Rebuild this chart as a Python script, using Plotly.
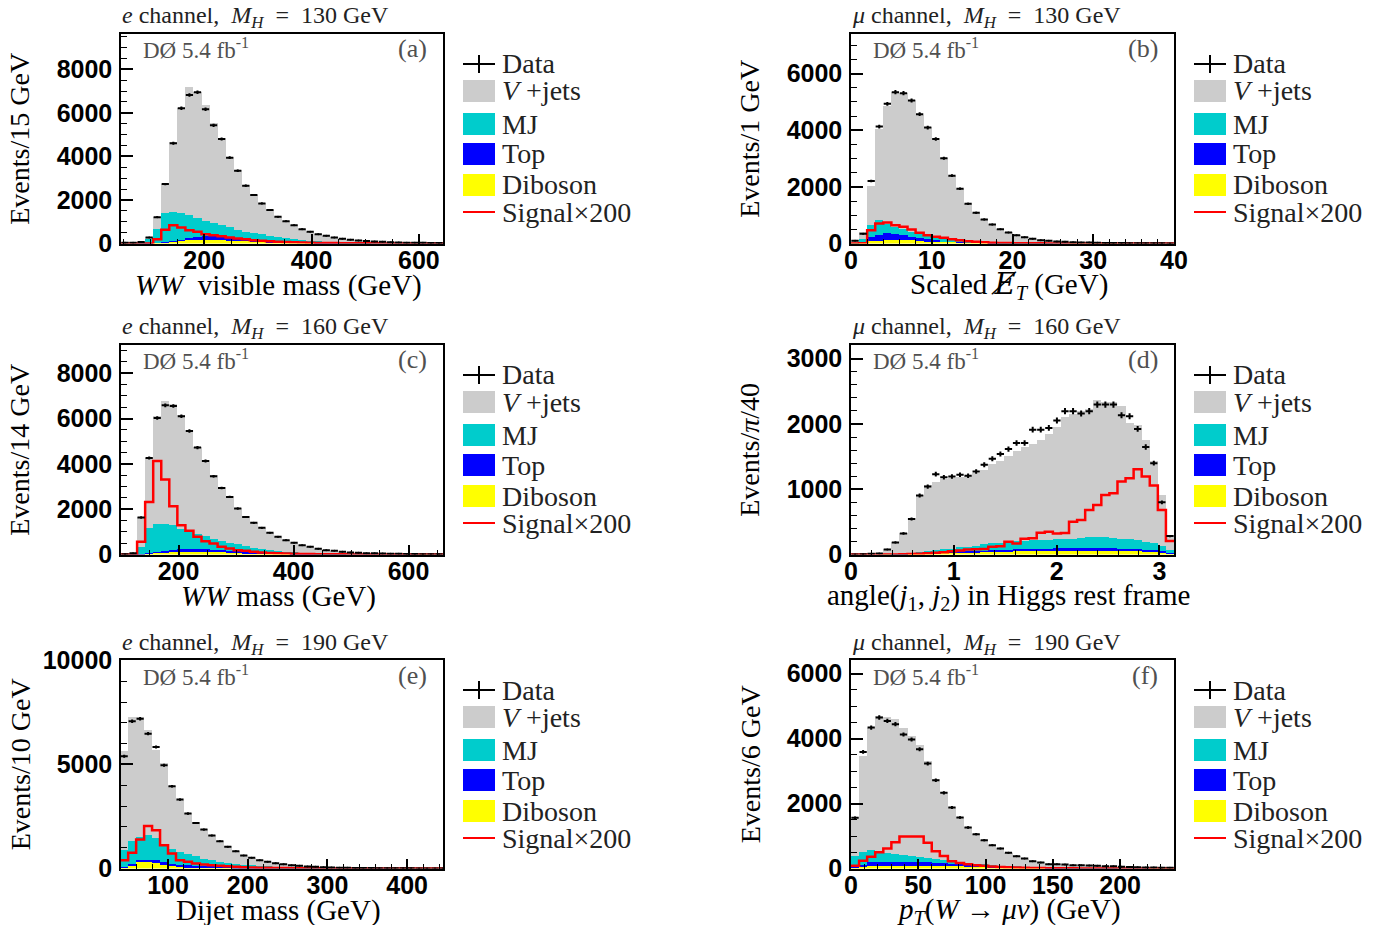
import numpy as np
import plotly.graph_objects as go

W, H = 1392, 933
PAD = 8  # default page margin of the browser around the figure
FW, FH = W - 2 * PAD, H - 2 * PAD
SERIF = "Liberation Serif"
SANS = "Liberation Sans"

C_VJ, C_MJ, C_TOP, C_DIB, C_SIG = "#cccccc", "#00cccc", "#0000ff", "#ffff00", "#ff0000"

# ---------------- data (events per bin) ----------------
# (a) e channel, MH=130, WW visible mass, 15 GeV bins from 45
a_data = [30, 40, 70, 276, 1211, 2729, 4600, 6209, 6822, 6944, 6163, 5427, 4798, 3940, 3342, 2652, 2223, 1840, 1533, 1226,
          1027, 843, 659, 537, 429, 353, 276, 215, 169, 138, 110, 90, 75, 60, 50, 40, 35, 30, 25, 20]
a_vjets = [10, 10, 30, 30, 571, 1370, 3194, 4790, 5897, 5825, 5318, 4600, 4017, 3254, 2777, 2143, 1780, 1446, 1213, 933,
           780, 650, 517, 417, 330, 275, 215, 165, 130, 108, 84, 70, 59, 47, 40, 32, 29, 25, 21, 17]
a_mj = [10, 15, 27, 217, 619, 1300, 1326, 1230, 1063, 850, 712, 590, 533, 456, 378, 337, 285, 269, 217, 207,
        177, 132, 98, 78, 64, 51, 42, 32, 25, 20, 16, 12, 10, 7, 6, 4, 3, 3, 2, 1]
a_top = [0, 0, 1, 3, 10, 20, 40, 60, 100, 150, 180, 180, 170, 150, 120, 100, 85, 70, 55, 45,
         38, 30, 25, 20, 16, 13, 10, 8, 7, 6, 5, 4, 3, 3, 2, 2, 2, 1, 1, 1]
a_diboson = [0, 0, 2, 10, 30, 60, 90, 120, 140, 150, 150, 150, 140, 130, 115, 100, 90, 75, 65, 55,
             45, 38, 30, 25, 20, 16, 13, 10, 8, 6, 5, 4, 3, 3, 2, 2, 1, 1, 1, 1]
a_signal = [0, 0, 0, 5, 190, 630, 843, 730, 613, 537, 430, 383, 337, 276, 230, 200, 153, 123, 107, 80,
            65, 52, 42, 34, 27, 22, 18, 14, 11, 9, 7, 6, 5, 4, 3, 3, 2, 2, 1, 1]

# (b) mu channel, MH=130, scaled missing ET, 1 GeV bins from 0
b_data = [100, 340, 2207, 4130, 4932, 5345, 5310, 5050, 4567, 4095, 3693, 3009, 2395, 1935, 1404, 1086, 850, 673, 507, 389,
          295, 224, 165, 118, 94, 71, 59, 47, 35, 35, 24, 20, 17, 14, 11, 9, 8, 6, 5, 4]
b_vjets = [90, 271, 1381, 3210, 4189, 4779, 4814, 4661, 4189, 3870, 3446, 2867, 2277, 1841, 1334, 1031, 806, 638, 480, 368,
           278, 211, 155, 110, 87, 65, 54, 43, 35, 29, 25, 20, 16, 14, 11, 9, 7, 6, 5, 4]
b_mj = [25, 92, 416, 531, 318, 260, 201, 177, 177, 118, 94, 57, 48, 37, 25, 19, 16, 13, 10, 8,
        7, 5, 4, 3, 3, 2, 2, 2, 2, 2, 1, 1, 1, 1, 1, 1, 1, 1, 1, 1]
b_top = [0, 20, 150, 195, 240, 212, 177, 126, 77, 57, 43, 20, 15, 12, 10, 8, 6, 5, 4, 3,
         2, 2, 1, 1, 1, 1, 1, 0, 0, 0, 0, 0, 0, 0, 0, 0, 0, 0, 0, 0]
b_diboson = [5, 30, 83, 100, 115, 118, 118, 110, 100, 85, 75, 65, 55, 45, 35, 28, 22, 17, 13, 10,
             8, 6, 5, 4, 3, 3, 2, 2, 1, 1, 1, 1, 1, 0, 0, 0, 0, 0, 0, 0]
b_signal = [0, 10, 472, 708, 743, 649, 590, 496, 378, 295, 236, 200, 153, 118, 80, 59, 40, 30, 22, 15,
            10, 8, 6, 5, 4, 3, 2, 2, 1, 1, 1, 1, 0, 0, 0, 0, 0, 0, 0, 0]

# (c) e channel, MH=160, WW mass, 14 GeV bins from 100
c_data = [10, 50, 1632, 4263, 6027, 6586, 6556, 6100, 5454, 4719, 4131, 3455, 2940, 2543, 2029, 1661, 1397, 1176, 956, 779,
          632, 515, 412, 338, 250, 191, 162, 118, 90, 75, 60, 50, 40, 35, 30, 25, 20, 15, 12, 10]
c_vjets = [5, 20, 1323, 3088, 4762, 5395, 5365, 4998, 4513, 3822, 3351, 2794, 2381, 2057, 1594, 1298, 1101, 925, 745, 628,
           522, 425, 343, 282, 207, 157, 135, 96, 73, 61, 49, 41, 33, 29, 25, 21, 17, 12, 10, 8]
c_mj = [5, 27, 313, 1115, 1218, 1197, 1074, 892, 735, 666, 569, 486, 408, 345, 311, 262, 209, 183, 153, 109,
        76, 61, 47, 38, 30, 24, 19, 15, 12, 9, 7, 6, 5, 4, 3, 2, 1, 2, 2, 2]
c_top = [0, 1, 5, 15, 30, 60, 100, 130, 140, 140, 130, 120, 105, 90, 75, 60, 50, 40, 32, 25,
         20, 16, 13, 10, 8, 6, 5, 4, 3, 3, 2, 2, 1, 1, 1, 1, 1, 0, 0, 0]
c_diboson = [0, 2, 20, 60, 90, 110, 120, 125, 125, 120, 110, 100, 90, 80, 70, 60, 50, 42, 35, 28,
             22, 18, 15, 12, 10, 8, 6, 5, 4, 3, 3, 2, 2, 1, 1, 1, 1, 1, 0, 0]
c_signal = [0, 0, 559, 2323, 4131, 3308, 2132, 1294, 1044, 779, 588, 485, 338, 265, 191, 162, 118, 90, 70, 55,
            42, 33, 26, 20, 15, 12, 9, 7, 5, 4, 3, 2, 2, 1, 1, 1, 0, 0, 0, 0]

# (d) mu channel, MH=160, angle(j1,j2) in Higgs rest frame, pi/40 bins from 0
d_data = [0, 5, 10, 15, 77, 185, 323, 544, 903, 1041, 1231, 1185, 1195, 1221, 1206, 1272, 1375, 1467, 1539, 1616,
          1708, 1708, 1913, 1913, 1939, 2052, 2196, 2196, 2160, 2196, 2298, 2298, 2298, 2134, 2119, 1924, 1647, 1400, 800, 282]
d_vjets = [0, 3, 8, 15, 78, 190, 323, 528, 872, 1011, 1051, 1077, 1078, 1072, 1082, 1109, 1146, 1211, 1260, 1320,
           1375, 1430, 1485, 1539, 1629, 1729, 1864, 1909, 1945, 1969, 2093, 2078, 2079, 2032, 1785, 1769, 1565, 1246, 780, 231]
d_mj = [0, 0, 0, 0, 1, 2, 4, 15, 24, 33, 38, 42, 51, 61, 66, 76, 93, 102, 108, 114,
        125, 127, 128, 131, 129, 137, 140, 145, 154, 165, 170, 166, 157, 149, 143, 138, 120, 115, 85, 47]
d_top = [0, 0, 0, 0, 0, 1, 2, 3, 5, 7, 9, 11, 13, 15, 17, 19, 21, 24, 27, 29,
         31, 33, 35, 37, 38, 39, 40, 40, 40, 40, 40, 40, 39, 38, 36, 33, 30, 25, 18, 8]
d_diboson = [0, 0, 0, 0, 1, 2, 4, 8, 12, 16, 20, 24, 28, 32, 35, 38, 40, 43, 45, 47,
             49, 50, 52, 53, 54, 55, 56, 56, 57, 57, 57, 56, 55, 54, 52, 50, 45, 40, 30, 12]
d_signal = [0, 0, 0, 0, 0, 0, 3, 8, 12, 18, 25, 35, 50, 60, 77, 80, 85, 118, 125, 195,
            169, 240, 250, 333, 349, 323, 330, 503, 528, 682, 759, 913, 939, 1118, 1170, 1308, 1195, 1057, 682, 205]

# (e) e channel, MH=190, dijet mass, 10 GeV bins from 40
e_data = [5392, 7072, 7200, 6480, 5840, 4960, 3952, 3312, 2640, 2192, 1872, 1584, 1312, 1040, 832, 624, 512, 400, 320, 256,
          208, 160, 128, 100, 80, 65, 50, 40, 35, 30, 25, 20, 16, 13, 10, 8, 7, 6, 5, 4, 3]
e_vjets = [4732, 5944, 5796, 5072, 4232, 3892, 3012, 2532, 1972, 1644, 1424, 1242, 1010, 810, 630, 460, 370, 290, 230, 182,
           147, 113, 88, 68, 55, 44, 34, 28, 25, 21, 18, 14, 11, 9, 7, 5, 5, 4, 4, 3, 2]
e_mj = [820, 1112, 1100, 1168, 1048, 860, 700, 588, 540, 440, 352, 278, 225, 172, 158, 130, 110, 89, 75, 60,
        49, 39, 32, 26, 20, 17, 13, 11, 8, 7, 5, 4, 4, 3, 3, 3, 2, 2, 1, 1, 1]
e_top = [32, 48, 80, 112, 160, 160, 128, 112, 90, 80, 78, 70, 60, 50, 40, 32, 26, 20, 16, 13,
         10, 8, 6, 5, 4, 3, 3, 2, 2, 1, 1, 1, 1, 1, 0, 0, 0, 0, 0, 0, 0]
e_diboson = [48, 160, 320, 320, 272, 160, 112, 80, 70, 60, 50, 42, 35, 28, 22, 18, 14, 11, 9, 7,
             6, 5, 4, 3, 3, 2, 2, 1, 1, 1, 1, 1, 0, 0, 0, 0, 0, 0, 0, 0, 0]
e_signal = [400, 752, 1392, 2048, 1840, 1120, 720, 400, 320, 240, 192, 160, 128, 112, 80, 64, 50, 40, 32, 25,
            20, 16, 12, 10, 8, 6, 5, 4, 3, 2, 2, 1, 1, 1, 1, 0, 0, 0, 0, 0, 0]

# (f) mu channel, MH=190, pT(W->mu nu), 6 GeV bins from 0
f_data = [1560, 3591, 4340, 4648, 4545, 4443, 4125, 3971, 3673, 3232, 2719, 2329, 1878, 1570, 1262, 1057, 872, 718, 616, 482,
          380, 308, 226, 185, 133, 133, 123, 103, 100, 92, 82, 72, 72, 51, 45, 38, 32, 27, 23, 20]
f_vjets = [1210, 2945, 3765, 4170, 4200, 4160, 3920, 3700, 3460, 2990, 2490, 2100, 1675, 1380, 1095, 910, 745, 610, 524, 405,
           316, 255, 182, 149, 110, 108, 103, 88, 86, 81, 73, 64, 62, 46, 41, 34, 29, 24, 21, 18]
f_mj = [318, 390, 390, 325, 265, 235, 205, 180, 150, 125, 105, 90, 75, 60, 50, 40, 35, 28, 22, 19,
        16, 13, 11, 9, 8, 7, 5, 5, 4, 3, 3, 3, 2, 2, 1, 2, 1, 2, 1, 1]
f_top = [37, 68, 105, 120, 117, 117, 118, 115, 108, 105, 99, 88, 82, 77, 67, 58, 48, 40, 33, 26,
         21, 17, 14, 11, 9, 7, 6, 5, 4, 3, 2, 2, 1, 1, 1, 1, 1, 0, 0, 0]
f_diboson = [25, 55, 80, 85, 88, 88, 87, 85, 82, 80, 76, 72, 68, 63, 58, 52, 47, 42, 37, 32,
             27, 23, 19, 16, 13, 11, 9, 7, 6, 5, 4, 3, 3, 2, 2, 1, 1, 1, 1, 1]
f_signal = [82, 236, 360, 500, 616, 810, 985, 985, 985, 795, 535, 385, 220, 170, 133, 103, 82, 62, 48, 37,
            28, 21, 16, 12, 9, 7, 5, 4, 3, 3, 2, 2, 1, 1, 1, 1, 0, 0, 0, 0]

# binning (first edge, width)
bins = {"a": (45, 15), "b": (0, 1), "c": (100, 14), "d": (0, np.pi / 40), "e": (40, 10), "f": (0, 6)}

# text
panel_titles = {
    "a": "<i>e</i> channel,  <i>M</i><sub><i>H</i></sub>  =  130 GeV",
    "b": "<i>μ</i> channel,  <i>M</i><sub><i>H</i></sub>  =  130 GeV",
    "c": "<i>e</i> channel,  <i>M</i><sub><i>H</i></sub>  =  160 GeV",
    "d": "<i>μ</i> channel,  <i>M</i><sub><i>H</i></sub>  =  160 GeV",
    "e": "<i>e</i> channel,  <i>M</i><sub><i>H</i></sub>  =  190 GeV",
    "f": "<i>μ</i> channel,  <i>M</i><sub><i>H</i></sub>  =  190 GeV",
}
x_titles = {
    "a": "<i>WW</i>  visible mass (GeV)",
    "b": "Scaled <span style=\"font-family:'DejaVu Serif'\"><i>E̸</i></span><sub><i>T</i></sub> (GeV)",
    "c": "<i>WW</i> mass (GeV)",
    "d": "angle(<i>j</i><sub>1</sub>, <i>j</i><sub>2</sub>) in Higgs rest frame",
    "e": "Dijet mass (GeV)",
    "f": "<i>p</i><sub><i>T</i></sub>(<i>W</i> → <i>μν</i>) (GeV)",
}
y_titles = {
    "a": "Events/15 GeV", "b": "Events/1 GeV", "c": "Events/14 GeV",
    "d": "Events/<i>π</i>/40", "e": "Events/10 GeV", "f": "Events/6 GeV",
}
legend_labels = ["Data", "<i>V</i> +jets", "MJ", "Top", "Diboson", "Signal×200"]

series = {
    "a": (a_data, a_vjets, a_mj, a_top, a_diboson, a_signal),
    "b": (b_data, b_vjets, b_mj, b_top, b_diboson, b_signal),
    "c": (c_data, c_vjets, c_mj, c_top, c_diboson, c_signal),
    "d": (d_data, d_vjets, d_mj, d_top, d_diboson, d_signal),
    "e": (e_data, e_vjets, e_mj, e_top, e_diboson, e_signal),
    "f": (f_data, f_vjets, f_mj, f_top, f_diboson, f_signal),
}

# ---------------- layout geometry (page pixels) ----------------
COLX = {"L": (121, 443), "R": (851, 1174)}
ROWY = [(34, 243.5), (345, 554.5), (660, 868.5)]
panel_pos = {"a": ("L", 0), "b": ("R", 0), "c": ("L", 1), "d": ("R", 1), "e": ("L", 2), "f": ("R", 2)}
axis_cfg = {  # x range, x major, x minor, y range, y major, y minor
    "a": ([45, 645], 200, 50, [0, 9620], 2000, 500),
    "b": ([0, 40], 10, 2, [0, 7400], 2000, 500),
    "c": ([100, 660], 200, 50, [0, 9250], 2000, 500),
    "d": ([0, np.pi], 1, 0.2, [0, 3210], 1000, 200),
    "e": ([41, 445], 100, 20, [0, 10020], 5000, 1000),
    "f": ([0, 240], 50, 10, [0, 6420], 2000, 500),
}


def fx(x):
    return (x - PAD) / FW


def fy(y):
    return 1 - (y - PAD) / FH


fig = go.Figure()
annotations = []
shapes = []

for i, key in enumerate("abcdef", start=1):
    col, row = panel_pos[key]
    x0, x1 = COLX[col]
    t0, t1 = ROWY[row]
    xa = "x" if i == 1 else f"x{i}"
    ya = "y" if i == 1 else f"y{i}"
    data, vj, mj, top, dib, sig = series[key]
    lo, bw = bins[key]
    n = len(data)
    centers = lo + bw * (np.arange(n) + 0.5)
    edges = lo + bw * np.arange(n + 1)

    for vals, colr in [(dib, C_DIB), (top, C_TOP), (mj, C_MJ), (vj, C_VJ)]:
        fig.add_trace(go.Bar(x=centers, y=vals, width=bw, marker=dict(color=colr, line=dict(width=0)),
                             xaxis=xa, yaxis=ya, showlegend=False, hoverinfo="skip"))
    fig.add_trace(go.Scatter(x=edges, y=list(sig) + [sig[-1]], mode="lines",
                             line=dict(color=C_SIG, width=2.5, shape="hv"),
                             xaxis=xa, yaxis=ya, showlegend=False, hoverinfo="skip"))
    dat = np.array(data, dtype=float)
    fig.add_trace(go.Scatter(x=centers, y=dat, mode="markers", marker=dict(size=2, color="black"),
                             error_x=dict(type="constant", value=bw * 0.45, thickness=2, width=0, color="black"),
                             error_y=dict(type="data", array=np.sqrt(dat), thickness=2, width=0, color="black"),
                             xaxis=xa, yaxis=ya, showlegend=False, hoverinfo="skip"))

    xr, xmaj, xmin_, yr, ymaj, ymin_ = axis_cfg[key]
    tickfont = dict(family=SANS, size=25, color="black", weight="bold")
    xname = "xaxis" if i == 1 else f"xaxis{i}"
    yname = "yaxis" if i == 1 else f"yaxis{i}"
    fig.update_layout(**{
        xname: dict(domain=[fx(x0), fx(x1)], range=xr, anchor=ya, showline=True, linecolor="black", linewidth=1.5,
                    mirror=True, ticks="inside", ticklen=10, tickwidth=1.5, tickcolor="black", tick0=0, dtick=xmaj,
                    minor=dict(dtick=xmin_, tick0=0, ticks="inside", ticklen=5, tickwidth=1.2, tickcolor="black"),
                    tickfont=tickfont, showgrid=False, zeroline=False, ticklabelstandoff=-6,
                    automargin=False, tickformat="d"),
        yname: dict(domain=[fy(t1), fy(t0)], range=yr, anchor=xa, showline=True, linecolor="black", linewidth=1.5,
                    mirror=True, ticks="inside", ticklen=12, tickwidth=1.5, tickcolor="black", tick0=0, dtick=ymaj,
                    minor=dict(dtick=ymin_, tick0=0, ticks="inside", ticklen=6, tickwidth=1.2, tickcolor="black"),
                    tickfont=tickfont, showgrid=False, zeroline=False, ticklabelstandoff=2,
                    automargin=False, tickformat="d"),
    })

    # panel title
    annotations.append(dict(x=fx(x0 - 1), y=fy(t0 - 16.5), xref="paper", yref="paper", xanchor="left",
                            yanchor="middle", text=panel_titles[key], showarrow=False,
                            font=dict(family=SERIF, size=24, color="#222222")))
    # D0 label
    annotations.append(dict(x=fx(x0 + 20), y=fy(t0 + 15), xref="paper", yref="paper", xanchor="left",
                            yanchor="middle", text="DØ 5.4 fb<sup>-1</sup>", showarrow=False,
                            font=dict(family=SERIF, size=23, color="#505050")))
    annotations.append(dict(x=fx(x1 - 14), y=fy(t0 + 15), xref="paper", yref="paper", xanchor="right",
                            yanchor="middle", text=f"({key})", showarrow=False,
                            font=dict(family=SERIF, size=26, color="#505050")))
    # axis titles
    annotations.append(dict(x=fx((x0 + x1) / 2 - 4), y=fy(t1 + 42), xref="paper", yref="paper", xanchor="center",
                            yanchor="middle", text=x_titles[key], showarrow=False,
                            font=dict(family=SERIF, size=29, color="black")))
    annotations.append(dict(x=fx(x0 - 101), y=fy((t0 + t1) / 2), xref="paper", yref="paper", xanchor="center",
                            yanchor="middle", text=y_titles[key], showarrow=False, textangle=-90,
                            font=dict(family=SERIF, size=28, color="black")))

    # legend
    lx0 = x1 + 20
    lx1 = lx0 + 32
    rows = [30, 57, 90, 120, 151, 178]
    shapes.append(dict(type="line", xref="paper", yref="paper", x0=fx(lx0), x1=fx(lx1),
                       y0=fy(t0 + rows[0]), y1=fy(t0 + rows[0]), line=dict(color="black", width=2)))
    shapes.append(dict(type="line", xref="paper", yref="paper", x0=fx((lx0 + lx1) / 2), x1=fx((lx0 + lx1) / 2),
                       y0=fy(t0 + rows[0] - 9), y1=fy(t0 + rows[0] + 9), line=dict(color="black", width=2)))
    for r, colr in zip(rows[1:5], [C_VJ, C_MJ, C_TOP, C_DIB]):
        shapes.append(dict(type="rect", xref="paper", yref="paper", x0=fx(lx0), x1=fx(lx1),
                           y0=fy(t0 + r - 11), y1=fy(t0 + r + 11), line=dict(width=0), fillcolor=colr))
    shapes.append(dict(type="line", xref="paper", yref="paper", x0=fx(lx0), x1=fx(lx1),
                       y0=fy(t0 + rows[5]), y1=fy(t0 + rows[5]), line=dict(color=C_SIG, width=2)))
    for r, lab in zip(rows, legend_labels):
        annotations.append(dict(x=fx(lx1 + 5), y=fy(t0 + r), xref="paper", yref="paper", xanchor="left",
                                yanchor="middle", text=lab, showarrow=False,
                                font=dict(family=SERIF, size=28, color="#222222")))

fig.update_layout(width=FW, height=FH, margin=dict(l=0, r=0, t=0, b=0, autoexpand=False), paper_bgcolor="white",
                  plot_bgcolor="white", barmode="stack", bargap=0, showlegend=False,
                  annotations=annotations, shapes=shapes)

fig.write_html("out.html")
